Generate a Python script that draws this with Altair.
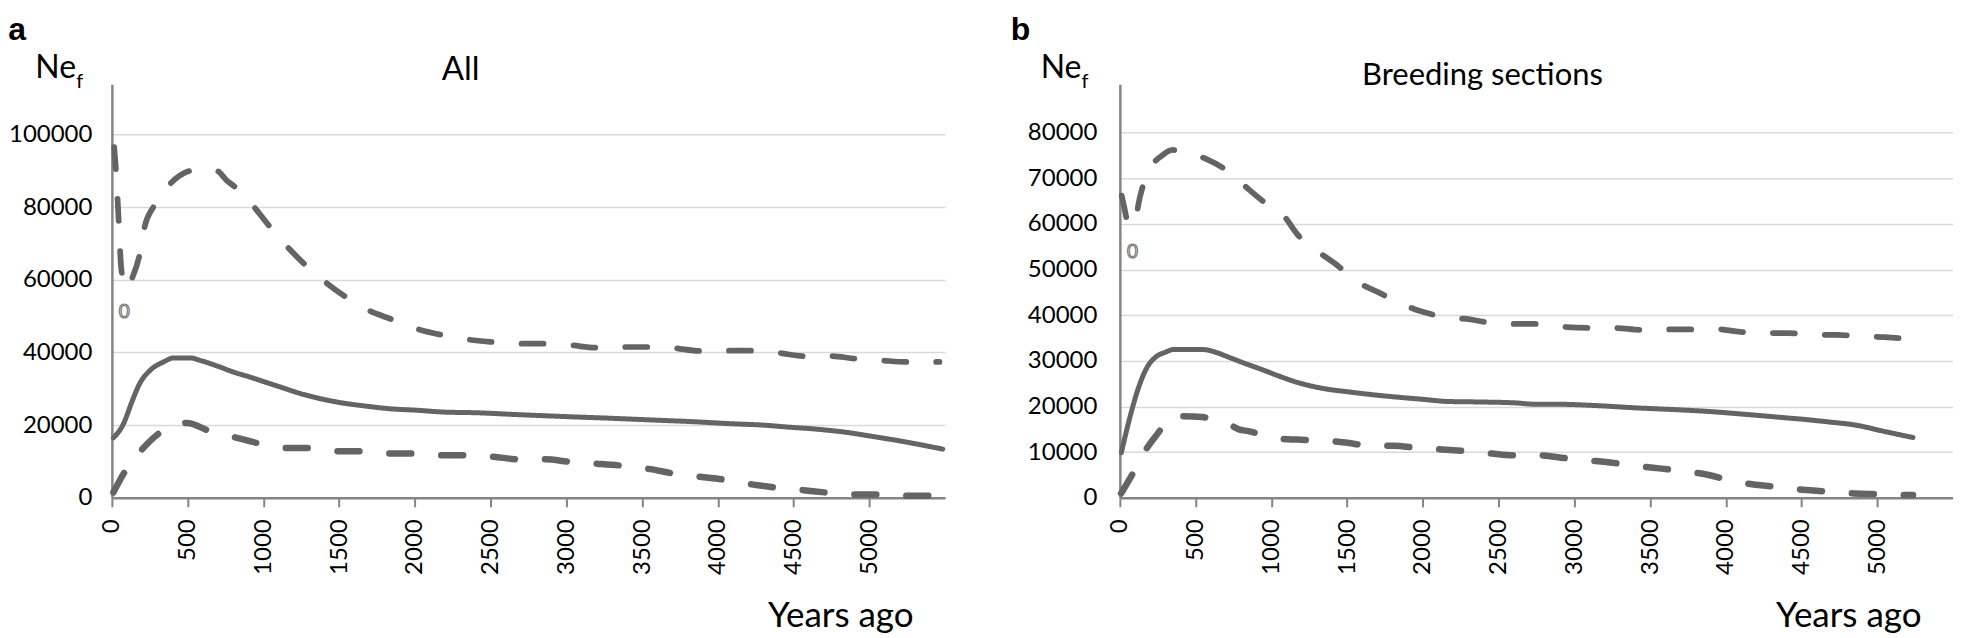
import altair as alt
import pandas as pd

# ---------------- data ----------------
YEAR_TICKS = [0, 500, 1000, 1500, 2000, 2500, 3000, 3500, 4000, 4500, 5000]
A_Y_TICKS = [0, 20000, 40000, 60000, 80000, 100000]
B_Y_TICKS = [0, 10000, 20000, 30000, 40000, 50000, 60000, 70000, 80000]

# Panel a: All
a_mid_x = [10, 77, 132, 183, 253, 341, 407, 517, 583, 693, 803, 913, 1023, 1133, 1243, 1353,
           1507, 1683, 1837, 2013, 2189, 2409, 2673, 2850, 3025, 3289, 3575, 3861, 4081, 4301,
           4450, 4650, 4851, 5005, 5181, 5485]
a_mid_y = [16500, 20400, 26400, 31400, 35100, 37400, 38500, 38500, 37800, 36300, 34600, 33200,
           31700, 30200, 28700, 27500, 26200, 25200, 24500, 24100, 23600, 23400, 22900, 22600,
           22300, 21900, 21400, 20900, 20400, 20000, 19500, 18900, 18000, 17000, 15800, 13400]

a_up_x = [15, 30, 45, 60, 73, 100, 132, 183, 213, 279, 385, 517, 605, 693, 759, 814, 935, 1041,
          1155, 1269, 1408, 1540, 1694, 1848, 2013, 2167, 2343, 2508, 2684, 2849, 3025, 3201,
          3377, 3553, 3707, 3883, 4059, 4235, 4400, 4565, 4741, 4906, 5082, 5247, 5463]
a_up_y = [96500, 88000, 76000, 64000, 60300, 57500, 60300, 66900, 74000, 80400, 86400, 90000,
          90500, 90000, 87300, 85500, 80200, 74700, 69200, 64400, 59400, 55400, 51600, 49100,
          46500, 44900, 43600, 42900, 42400, 42400, 42000, 41300, 41500, 41500, 41200, 40400,
          40500, 40500, 39900, 39000, 39000, 38300, 37800, 37400, 37400]

a_lo_x = [10, 99, 205, 330, 495, 649, 825, 979, 1155, 1320, 1496, 1661, 1837, 2002, 2178, 2354,
          2519, 2684, 2860, 3025, 3201, 3377, 3553, 3707, 3883, 4059, 4224, 4389, 4565, 4730,
          4906, 5082, 5247, 5423]
a_lo_y = [1500, 8100, 13600, 18300, 20600, 18300, 16500, 14900, 13700, 13700, 12800, 12800,
          12200, 12200, 11700, 11700, 11300, 10600, 10600, 9900, 9400, 8800, 7900, 6700, 5800,
          4900, 3700, 2800, 2100, 1400, 900, 900, 550, 550]

a_mark_x = [81]
a_mark_y = [51100]

# Panel b: Breeding sections
b_mid_x = [10, 70, 125, 180, 235, 301, 356, 543, 631, 719, 829, 938, 1048, 1180, 1334, 1510,
           1664, 1817, 1993, 2169, 2367, 2609, 2740, 2884, 3148, 3411, 3675, 3895, 4159, 4335,
           4510, 4686, 4862, 5038, 5236]
b_mid_y = [9900, 18100, 24300, 28600, 30800, 31900, 32500, 32500, 31900, 30800, 29400, 28100,
           26700, 25200, 24000, 23200, 22600, 22100, 21600, 21100, 21000, 20800, 20500, 20500,
           20200, 19700, 19300, 18900, 18200, 17700, 17200, 16600, 15900, 14600, 13200]

b_up_x = [12, 30, 48, 75, 103, 132, 180, 279, 350, 433, 565, 719, 829, 960, 1081, 1180, 1301,
          1444, 1554, 1708, 1839, 1993, 2147, 2312, 2455, 2630, 2796, 2950, 3126, 3280, 3433,
          3598, 3763, 3928, 4082, 4247, 4411, 4565, 4730, 4884, 5049, 5231]
b_up_y = [66200, 63500, 60700, 59500, 61100, 65800, 70900, 75000, 76200, 75800, 74300, 71400,
          68200, 64600, 61800, 57400, 54100, 50700, 47600, 45000, 42800, 40800, 39600, 39100,
          38300, 38100, 38100, 37400, 37200, 37200, 36800, 36900, 36900, 37000, 36400, 36100,
          36100, 35700, 35700, 35400, 35200, 34700]

b_lo_x = [8, 92, 169, 257, 323, 389, 543, 631, 719, 785, 850, 1015, 1169, 1334, 1488, 1664,
          1806, 1971, 2125, 2301, 2455, 2620, 2774, 2939, 3093, 3258, 3411, 3576, 3730, 3895,
          4049, 4214, 4367, 4532, 4686, 4851, 5005, 5170, 5236]
b_lo_y = [950, 5700, 10400, 14400, 17300, 17900, 17700, 17000, 16200, 15000, 14600, 13100,
          12750, 12600, 12100, 11400, 11400, 10900, 10600, 10200, 9700, 9300, 9300, 8700, 8200,
          7650, 7000, 6400, 5800, 4950, 3600, 2800, 2300, 1700, 1300, 950, 800, 600, 600]

b_mark_x = [84]
b_mark_y = [53800]

SERIES = ["median", "upper", "lower"]

# ---------------- styling ----------------
LINE = "#646464"
AXIS = "#858585"
GRID = "#d9d9d9"
FONT = "Lato"
W, H = 834, 414


def frame(mid, up, lo):
    parts = []
    for name, (xs, ys) in zip(SERIES, [mid, up, lo]):
        parts.append(pd.DataFrame({"year": xs, "ne": ys, "series": name}))
    return pd.concat(parts, ignore_index=True)


def text(label, x, y, size, font=FONT, weight="normal"):
    return alt.Chart(alt.Data(values=[{}])).mark_text(
        text=label, font=font, fontSize=size, fontWeight=weight,
        align="left", baseline="alphabetic", color="black"
    ).encode(x=alt.value(x), y=alt.value(y))


def panel(df, mark_x, mark_y, ydom, yticks, ylab_pad, letter, letter_x,
          title, title_x, title_y, title_size, ne_x, f_x):
    x_enc = alt.X("year:Q",
                  scale=alt.Scale(domain=[0, 5500], nice=False, zero=False),
                  axis=alt.Axis(values=YEAR_TICKS, format="d", labelAngle=-90,
                                labelFont=FONT, labelFontSize=24, labelColor="black",
                                labelPadding=12, labelFlush=False, labelOverlap=False,
                                tickSize=9, tickColor=AXIS, tickWidth=2,
                                domainColor=AXIS, domainWidth=2.5, grid=False,
                                title="Years ago", titleFont=FONT, titleFontSize=35,
                                titleFontWeight="normal", titleColor="black",
                                titleX=802, titleY=129, titleAlign="right",
                                titleBaseline="alphabetic", titleAngle=0))
    y_enc = alt.Y("ne:Q",
                  scale=alt.Scale(domain=ydom, nice=False),
                  axis=alt.Axis(values=yticks, format="d", labelFont=FONT,
                                labelFontSize=24, labelColor="black",
                                labelPadding=ylab_pad, ticks=False, tickSize=0,
                                labelFlush=False, domainColor=AXIS, domainWidth=2.5,
                                grid=True, gridColor=GRID, gridWidth=1.5, title=None))

    lines = alt.Chart(df).mark_line(
        color=LINE, strokeCap="round", strokeJoin="round", interpolate="monotone"
    ).encode(
        x=x_enc, y=y_enc, detail="series:N",
        strokeDash=alt.StrokeDash("series:N", legend=None,
                                  scale=alt.Scale(domain=SERIES,
                                                  range=[[1, 0], [22, 30], [22, 30]])),
        strokeWidth=alt.StrokeWidth("series:N", legend=None,
                                    scale=alt.Scale(domain=SERIES, range=[5, 6.5, 6.5])),
    )

    mark = alt.Chart(pd.DataFrame({"year": mark_x, "ne": mark_y})).mark_text(
        text="0", font=FONT, fontSize=19, fill="white", stroke="#7a7a7a",
        strokeWidth=1.2, baseline="middle", align="center"
    ).encode(x=x_enc, y=y_enc)

    layers = [
        lines, mark,
        text(letter, letter_x, -44, 32, font="Liberation Sans", weight="bold"),
        text("Ne", ne_x, -6.7, 32),
        text("f", f_x, 3.3, 20),
        text(title, title_x, title_y, title_size),
    ]
    return alt.layer(*layers).properties(width=W, height=H)


pa = panel(frame((a_mid_x, a_mid_y), (a_up_x, a_up_y), (a_lo_x, a_lo_y)),
           a_mark_x, a_mark_y, [0, 113800], A_Y_TICKS, 20, "a", -103.7,
           "All", 330.3, -4.7, 33, -76.7, -35.7)
pb = panel(frame((b_mid_x, b_mid_y), (b_up_x, b_up_y), (b_lo_x, b_lo_y)),
           b_mark_x, b_mark_y, [0, 90600], B_Y_TICKS, 23, "b", -109.3,
           "Breeding sections", 242.4, 0.3, 31, -79.3, -38.3)

chart = alt.hconcat(pa, pb, spacing=64).properties(
    padding={"top": 6, "left": 0, "right": 0, "bottom": 0}, background="white"
).configure_view(stroke=None)

chart.save("out.html", embed_options={"renderer": "svg", "actions": False})
